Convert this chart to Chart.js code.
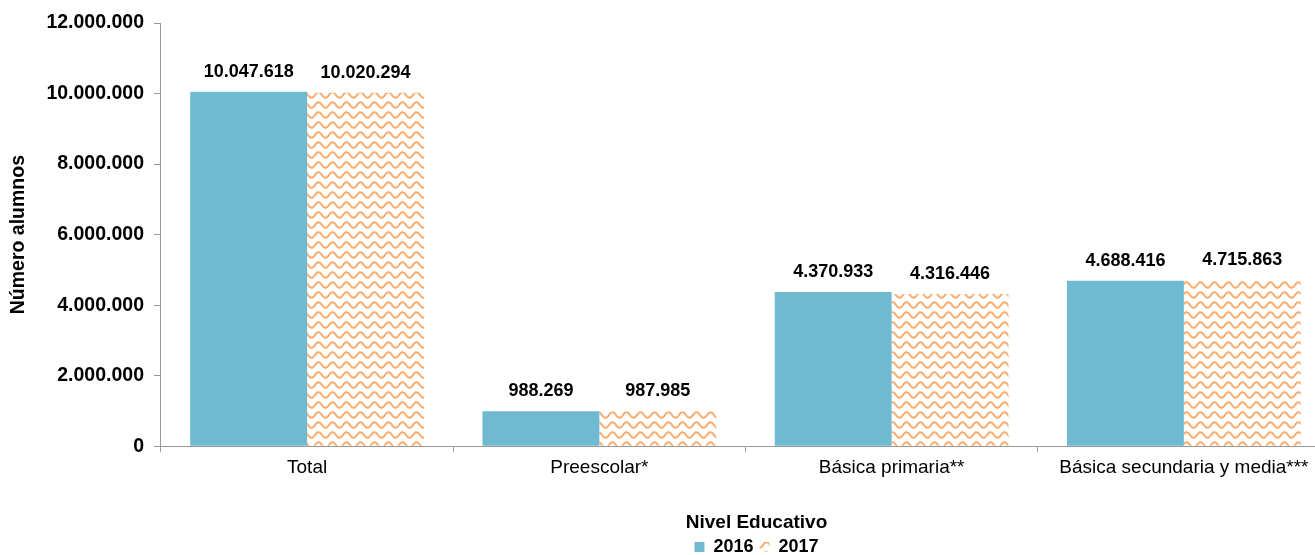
<!DOCTYPE html>
<html>
<head>
<meta charset="utf-8">
<script src="https://cdn.jsdelivr.net/npm/chart.js@4"></script>
<style>
  html, body { margin: 0; padding: 0; background: #fff; overflow: hidden; }
  #wrap { width: 1330px; height: 555px; position: relative; }
</style>
</head>
<body>
<div id="wrap"><canvas id="chart"></canvas></div>
<script>
// ******************************************************** DATA
var categories = ["Total", "Preescolar*", "Básica primaria**", "Básica secundaria y media***"];
var alumnos2016 = [10047618, 988269, 4370933, 4688416];
var alumnos2017 = [10020294, 987985, 4316446, 4715863];
var yTicks = [0, 2000000, 4000000, 6000000, 8000000, 10000000, 12000000];

function fmt(n) {
  return String(n).replace(/\B(?=(\d{3})+(?!\d))/g, ".");
}

// ******************************************************** PATTERN
function wavePattern() {
  var w = 14, h = 10;
  var c = document.createElement("canvas");
  c.width = w; c.height = h;
  var g = c.getContext("2d");
  g.fillStyle = "#ffffff";
  g.fillRect(0, 0, w, h);
  g.strokeStyle = "#fbae72";
  g.lineWidth = 2;
  g.beginPath();
  for (var x = -1; x <= w + 1; x += 0.5) {
    var y = 5 + 2.8 * Math.sin((x / w) * Math.PI * 2);
    if (x === -1) g.moveTo(x, y); else g.lineTo(x, y);
  }
  g.stroke();
  return g.createPattern(c, "repeat");
}

var labelPlugin = {
  id: "valueLabels",
  afterLayout: function (chart) {
    // legend sits a bit right of the canvas centre in the original
    chart.legend.left += 88;
    chart.legend.right += 88;
  },
  afterDatasetsDraw: function (chart) {
    var ctx = chart.ctx;
    ctx.save();
    ctx.font = "bold 18px 'Liberation Sans', Arial, sans-serif";
    ctx.fillStyle = "#000";
    ctx.textAlign = "center";
    ctx.textBaseline = "middle";
    chart.data.datasets.forEach(function (ds, i) {
      chart.getDatasetMeta(i).data.forEach(function (bar, j) {
        ctx.fillText(fmt(ds.data[j]), bar.x, bar.y - 20);
      });
    });
    ctx.restore();
  }
};

// ******************************************************** CHART
var font = "'Liberation Sans', Arial, sans-serif";
var ctx = document.getElementById("chart").getContext("2d");
new Chart(ctx, {
  type: "bar",
  data: {
    labels: categories,
    datasets: [{
      label: "2016",
      data: alumnos2016,
      backgroundColor: "#6fbad1",
      categoryPercentage: 0.8,
      barPercentage: 1.0
    }, {
      label: "2017",
      data: alumnos2017,
      backgroundColor: wavePattern(),
      categoryPercentage: 0.8,
      barPercentage: 1.0
    }]
  },
  options: {
    responsive: true,
    maintainAspectRatio: false,
    animation: false,
    layout: { padding: { top: 23, left: 7, right: 0, bottom: -11 } },
    plugins: {
      tooltip: { enabled: false },
      legend: {
        position: "bottom",
        align: "center",
        title: {
          display: true, text: "Nivel Educativo",
          font: { family: font, size: 19, weight: "bold", lineHeight: 1 }, color: "#000",
          padding: { top: 30, bottom: 0 }
        },
        labels: {
          font: { family: font, size: 18, weight: "bold" },
          color: "#000",
          boxWidth: 10,
          boxHeight: 10,
          padding: 6
        }
      }
    },
    scales: {
      x: {
        offset: true,
        grid: { offset: true, drawOnChartArea: false, color: "#999", tickLength: 6 },
        border: { color: "#999" },
        ticks: { font: { family: font, size: 19 }, color: "#000", padding: 4 }
      },
      y: {
        min: 0,
        max: 12000000,
        afterBuildTicks: function (axis) {
          axis.ticks = yTicks.map(function (v) { return { value: v }; });
        },
        grid: { drawOnChartArea: false, color: "#999", tickLength: 7 },
        border: { color: "#999" },
        ticks: {
          font: { family: font, size: 19.5, weight: "bold" }, color: "#000", padding: 10,
          callback: function (v) { return fmt(v); }
        },
        title: {
          display: true, text: "Número alumnos",
          font: { family: font, size: 19.5, weight: "bold" }, color: "#000",
          padding: { top: 0, bottom: 6 }
        }
      }
    }
  },
  plugins: [labelPlugin]
});
</script>
</body>
</html>
